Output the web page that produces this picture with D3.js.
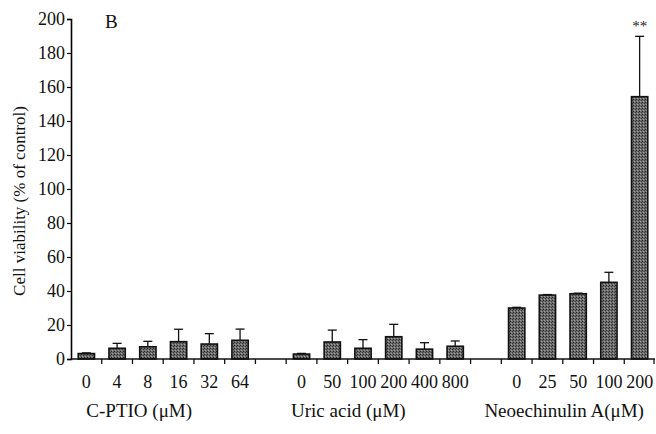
<!DOCTYPE html>
<html>
<head>
<meta charset="utf-8">
<script src="https://cdn.jsdelivr.net/npm/d3@7"></script>
<style>
  html, body { margin: 0; padding: 0; background: #fff; }
  svg { display: block; }
  text { font-family: 'Liberation Serif', 'DejaVu Serif', serif; }
</style>
</head>
<body>
<svg id="chart" width="656" height="434"></svg>
<script>
// values (% of control), upward SD only
const cptioDoses = ['0', '4', '8', '16', '32', '64']
const cptioMeans = [3.2, 6.3, 7.2, 10.2, 8.8, 11]
const cptioSD = [0.4, 2.9, 3.2, 7.3, 6.1, 6.6]

const uricDoses = ['0', '50', '100', '200', '400', '800']
const uricMeans = [2.9, 10, 6.3, 13.1, 5.8, 7.5]
const uricSD = [0.4, 7, 5.1, 7.3, 3.8, 3.1]

const neoDoses = ['0', '25', '50', '100', '200']
const neoMeans = [30, 37.6, 38.4, 45.1, 154.3]
const neoSD = [0.4, 0.3, 0.3, 5.9, 35.5]

const groupLabels = ['C-PTIO (μM)', 'Uric acid (μM)', 'Neoechinulin A(μM)']
const yTicks = [0, 20, 40, 60, 80, 100, 120, 140, 160, 180, 200]

const FONT = 'Liberation Serif'
const margin = { top: 19, left: 71, right: 1 }
const WIDTH = 656
const axisY = 359

// build slots: each group, with an empty slot between groups
let slots = []
let rows = []
let groups = [
  [cptioDoses, cptioMeans, cptioSD],
  [uricDoses, uricMeans, uricSD],
  [neoDoses, neoMeans, neoSD]
]
groups.forEach((g, gi) => {
  if (gi > 0) slots.push('gap' + gi)
  g[0].forEach((dose, i) => {
    let key = gi + '-' + dose
    slots.push(key)
    rows.push({ key: key, dose: dose, group: gi, mean: g[1][i], sd: g[2][i] })
  })
})

const x = d3.scaleBand()
  .domain(slots)
  .range([margin.left, WIDTH - margin.right])
  .paddingInner(0.47)
  .paddingOuter(0.235)

const y = d3.scaleLinear()
  .domain([0, 200])
  .range([axisY, margin.top])

const svg = d3.select('#chart')

// stippled fill like the printed bars
const defs = svg.append('defs')
const pat = defs.append('pattern')
  .attr('id', 'stip')
  .attr('width', 3).attr('height', 3)
  .attr('patternUnits', 'userSpaceOnUse')
pat.append('rect').attr('width', 3).attr('height', 3).attr('fill', '#6c6c6c')
pat.append('rect').attr('x', 0).attr('y', 0).attr('width', 1).attr('height', 1).attr('fill', '#262626')
pat.append('rect').attr('x', 2).attr('y', 1).attr('width', 1).attr('height', 1).attr('fill', '#3c3c3c')
pat.append('rect').attr('x', 1).attr('y', 2).attr('width', 1).attr('height', 1).attr('fill', '#a0a0a0')

// error bars (upper only)
const capW = 9
const eb = svg.append('g').attr('stroke', '#111').attr('stroke-width', 1.3)
rows.forEach(d => {
  let cx = x(d.key) + x.bandwidth() / 2
  eb.append('line')
    .attr('x1', cx).attr('x2', cx)
    .attr('y1', y(d.mean)).attr('y2', y(d.mean + d.sd))
  eb.append('line')
    .attr('x1', cx - capW / 2).attr('x2', cx + capW / 2)
    .attr('y1', y(d.mean + d.sd)).attr('y2', y(d.mean + d.sd))
})

// bars
svg.append('g')
  .selectAll('rect')
  .data(rows)
  .join('rect')
  .attr('x', d => x(d.key))
  .attr('y', d => y(d.mean))
  .attr('width', x.bandwidth())
  .attr('height', d => y(0) - y(d.mean))
  .attr('fill', 'url(#stip)')
  .attr('stroke', '#111')
  .attr('stroke-width', 1.6)

// y axis
const yg = svg.append('g')
  .attr('transform', `translate(${margin.left},0)`)
  .call(d3.axisLeft(y).tickValues(yTicks).tickSize(4).tickPadding(2))
yg.attr('font-family', FONT).attr('font-size', 18)
yg.select('.domain').attr('stroke-width', 1.6)
yg.selectAll('.tick line').attr('stroke-width', 1.2)
yg.selectAll('.tick text').attr('fill', '#111')

// x axis: line + ticks at every slot boundary
const xg = svg.append('g')
xg.append('line')
  .attr('x1', margin.left).attr('x2', WIDTH - margin.right)
  .attr('y1', axisY).attr('y2', axisY)
  .attr('stroke', '#111').attr('stroke-width', 1.6)
const step = x.step()
slots.forEach((s, i) => {
  let bx = x(s) - step * x.paddingInner() / 2 + step
  if (i === slots.length - 1) bx = WIDTH - margin.right - 1
  xg.append('line')
    .attr('x1', bx).attr('x2', bx)
    .attr('y1', axisY).attr('y2', axisY + 5)
    .attr('stroke', '#111').attr('stroke-width', 1.3)
})

// dose labels under each bar
svg.append('g')
  .selectAll('text')
  .data(rows)
  .join('text')
  .attr('x', d => x(d.key) + x.bandwidth() / 2)
  .attr('y', 388)
  .attr('text-anchor', 'middle')
  .attr('font-family', FONT)
  .attr('font-size', 18)
  .attr('fill', '#111')
  .text(d => d.dose)

// group labels
const groupKeys = [
  ['0-0', '0-64'], ['1-0', '1-800'], ['2-0', '2-200']
]
const groupShift = [-24, -30, -14]
groupKeys.forEach((k, i) => {
  let cx = (x(k[0]) + x(k[1]) + x.bandwidth()) / 2 + groupShift[i]
  svg.append('text')
    .attr('x', cx)
    .attr('y', 417)
    .attr('text-anchor', 'middle')
    .attr('font-family', FONT)
    .attr('font-size', 19)
    .attr('fill', '#111')
    .text(groupLabels[i])
})

// y axis title
svg.append('text')
  .attr('transform', `translate(25,${(margin.top + axisY) / 2 + 12}) rotate(-90)`)
  .attr('text-anchor', 'middle')
  .attr('font-family', FONT)
  .attr('font-size', 17)
  .attr('fill', '#111')
  .text('Cell viability (% of control)')

// panel letter
svg.append('text')
  .attr('x', 105).attr('y', 28)
  .attr('font-family', FONT)
  .attr('font-size', 19)
  .attr('fill', '#111')
  .text('B')

// significance mark on the last bar
const last = rows[rows.length - 1]
svg.append('text')
  .attr('x', x(last.key) + x.bandwidth() / 2)
  .attr('y', y(last.mean + last.sd) - 5)
  .attr('text-anchor', 'middle')
  .attr('font-family', FONT)
  .attr('font-size', 15)
  .attr('fill', '#222')
  .text('**')
</script>
</body>
</html>
